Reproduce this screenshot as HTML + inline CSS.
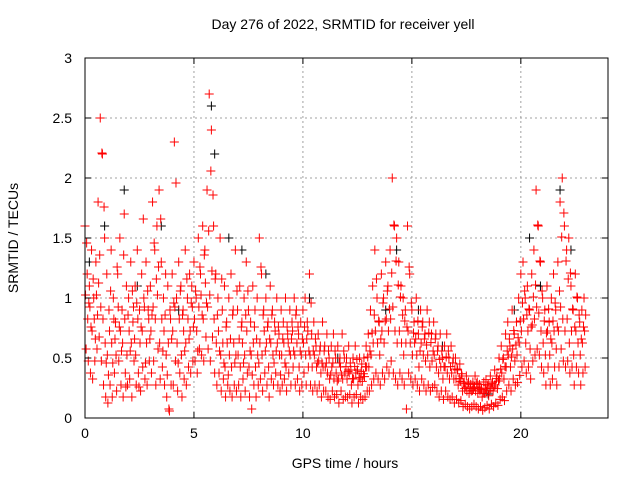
<!DOCTYPE html>
<html><head><meta charset="utf-8"><style>
html,body{margin:0;padding:0;background:#fff;}
svg text{font-family:"Liberation Sans",sans-serif;font-size:14px;fill:#000;}
</style></head><body>
<svg id="chart" width="640" height="480" viewBox="0 0 640 480" xmlns="http://www.w3.org/2000/svg">
<rect x="0" y="0" width="640" height="480" fill="#fff"/>
<text x="343" y="29" text-anchor="middle">Day 276 of 2022, SRMTID for receiver yell</text>
<text x="345" y="468" text-anchor="middle">GPS time / hours</text>
<text transform="translate(18,238) rotate(-90)" text-anchor="middle">SRMTID / TECUs</text>
<g id="grid"></g>
<g id="marks"></g>
<g id="axes"></g>
</svg>
<script>
const xTicks=[0,5,10,15,20];
const yTicks=[0,0.5,1,1.5,2,2.5,3];
const yTickLabels=["0","0.5","1","1.5","2","2.5","3"];
const xStep=0.1;
const upperVals=[1.6,1.2,1.1,1.4,1.0,1.3,1.8,2.5,2.2,1.5,
1.2,0.9,1.4,1.0,0.8,1.2,1.5,0.9,1.7,1.1,
1.0,1.3,0.8,1.1,1.4,0.9,1.2,1.0,1.3,0.9,
1.1,1.8,1.4,1.6,1.9,1.3,1.0,1.2,1.1,0.9,
1.2,2.3,1.0,1.3,1.1,0.9,1.4,1.0,1.2,1.1,
1.3,1.0,1.5,1.2,1.6,1.4,1.9,2.7,2.4,1.6,
1.2,1.0,1.5,0.9,1.1,0.8,1.0,1.2,0.9,1.4,
0.9,1.1,0.8,1.0,1.3,0.9,0.8,1.1,0.9,1.0,
1.5,1.2,0.9,1.0,0.8,1.1,0.9,0.8,1.0,0.7,
0.9,0.8,1.0,0.7,0.9,0.8,1.0,0.9,0.7,0.8,
0.9,1.0,0.8,1.2,0.7,0.8,0.6,0.7,0.6,0.8,
0.6,0.7,0.5,0.6,0.7,0.5,0.6,0.5,0.7,0.5,
0.5,0.6,0.4,0.5,0.6,0.4,0.5,0.45,0.5,0.6,
0.7,0.9,1.1,1.4,1.0,0.8,1.2,1.0,1.3,1.1,
1.4,2.0,1.6,1.5,1.3,1.1,1.0,0.9,1.6,1.2,
0.9,0.8,1.0,0.7,0.9,0.8,0.7,0.9,0.8,0.7,
0.8,0.7,0.6,0.7,0.5,0.6,0.7,0.5,0.6,0.5,
0.5,0.4,0.45,0.35,0.3,0.35,0.3,0.28,0.3,0.35,
0.3,0.28,0.25,0.3,0.32,0.28,0.35,0.3,0.4,0.35,
0.5,0.6,0.5,0.7,0.8,0.6,0.9,0.7,0.8,1.0,
1.2,1.3,1.0,1.1,0.9,1.2,1.4,1.9,1.6,1.3,
1.0,0.9,1.1,0.8,1.0,1.2,0.9,1.3,1.8,2.0,
1.6,1.4,1.5,1.1,0.9,1.2,1.0,0.8,0.9,1.0];
const middleVals=[1.0,0.8,0.9,0.7,0.8,1.0,1.1,0.9,0.8,0.6,
0.5,0.7,0.6,0.8,0.5,0.9,0.7,0.6,0.8,0.5,
0.7,0.6,0.9,0.5,0.8,0.6,0.7,0.9,0.6,0.8,
0.7,0.9,0.8,1.0,0.6,0.8,0.7,0.5,0.6,0.8,
0.7,0.9,0.6,0.8,0.5,0.7,0.6,0.8,0.7,0.9,
0.8,0.7,0.9,1.0,0.8,1.1,0.9,1.0,1.2,0.8,
0.6,0.7,0.5,0.6,0.4,0.6,0.5,0.4,0.6,0.5,
0.5,0.4,0.6,0.5,0.7,0.4,0.5,0.6,0.4,0.5,
0.6,0.5,0.7,0.6,0.4,0.6,0.5,0.7,0.6,0.5,
0.5,0.6,0.4,0.6,0.5,0.7,0.5,0.6,0.4,0.5,
0.6,0.5,0.7,0.5,0.4,0.5,0.4,0.45,0.35,0.4,
0.4,0.35,0.3,0.4,0.3,0.35,0.3,0.4,0.3,0.35,
0.3,0.35,0.25,0.3,0.35,0.25,0.3,0.28,0.32,0.4,
0.4,0.5,0.6,0.7,0.6,0.5,0.7,0.6,0.8,0.7,
0.8,0.9,0.7,0.6,0.7,0.6,0.5,0.6,0.7,0.6,
0.5,0.6,0.5,0.4,0.6,0.5,0.45,0.5,0.4,0.45,
0.5,0.4,0.35,0.4,0.3,0.4,0.35,0.3,0.35,0.3,
0.3,0.25,0.28,0.2,0.22,0.2,0.18,0.2,0.22,0.2,
0.18,0.2,0.15,0.18,0.2,0.16,0.22,0.2,0.25,0.22,
0.3,0.35,0.3,0.4,0.5,0.4,0.55,0.45,0.5,0.6,
0.7,0.8,0.6,0.7,0.55,0.75,0.8,0.9,0.85,0.7,
0.6,0.5,0.7,0.5,0.6,0.7,0.55,0.7,0.9,0.8,
0.7,0.8,0.6,0.7,0.5,0.7,0.6,0.5,0.6,0.7];
const lowerVals=[0.6,0.5,0.4,0.35,0.5,0.6,0.7,0.5,0.3,0.2,
0.15,0.3,0.2,0.4,0.25,0.5,0.3,0.2,0.4,0.3,
0.35,0.2,0.5,0.3,0.4,0.25,0.45,0.35,0.3,0.5,
0.4,0.5,0.3,0.6,0.35,0.45,0.3,0.2,0.1,0.3,
0.3,0.5,0.25,0.4,0.2,0.35,0.3,0.45,0.4,0.5,
0.5,0.4,0.6,0.55,0.5,0.7,0.6,0.5,0.7,0.4,
0.3,0.4,0.25,0.35,0.2,0.3,0.25,0.2,0.3,0.25,
0.3,0.2,0.35,0.25,0.4,0.2,0.1,0.3,0.2,0.3,
0.35,0.25,0.4,0.3,0.2,0.35,0.3,0.4,0.3,0.25,
0.3,0.35,0.25,0.4,0.3,0.45,0.3,0.35,0.25,0.3,
0.4,0.3,0.45,0.3,0.25,0.3,0.25,0.3,0.2,0.25,
0.25,0.2,0.18,0.25,0.2,0.22,0.15,0.25,0.18,0.2,
0.2,0.22,0.15,0.2,0.22,0.15,0.2,0.18,0.2,0.25,
0.25,0.3,0.35,0.4,0.35,0.3,0.4,0.35,0.45,0.4,
0.5,0.4,0.35,0.3,0.4,0.35,0.3,0.1,0.4,0.35,
0.3,0.35,0.3,0.25,0.35,0.3,0.25,0.3,0.25,0.28,
0.3,0.25,0.2,0.25,0.18,0.25,0.2,0.18,0.2,0.15,
0.18,0.15,0.17,0.12,0.14,0.12,0.1,0.12,0.14,0.12,
0.1,0.12,0.09,0.11,0.13,0.1,0.14,0.12,0.15,0.13,
0.18,0.2,0.17,0.25,0.3,0.25,0.35,0.3,0.32,0.38,
0.45,0.5,0.4,0.45,0.35,0.5,0.55,0.6,0.55,0.45,
0.4,0.3,0.45,0.3,0.35,0.45,0.3,0.45,0.6,0.5,
0.45,0.5,0.4,0.45,0.3,0.45,0.4,0.3,0.4,0.45];
const extraVals=[1.45,0.95,0.75,1.15,0.65,0.85,1.35,2.2,1.75,0.45,
0.35,1.05,0.45,0.65,1.25,0.75,0.55,1.35,0.25,0.85,
0.55,1.05,0.65,0.95,0.25,0.75,1.65,0.45,1.05,0.65,
0.85,1.45,1.15,1.25,1.65,0.55,0.85,0.35,0.05,0.65,
0.95,1.95,0.45,1.05,0.85,0.55,1.15,0.65,0.95,0.75,
1.05,0.55,1.25,0.85,1.35,0.95,1.55,2.05,1.85,1.15,
0.85,0.55,1.15,0.45,0.75,0.35,0.65,0.85,0.45,1.05,
0.65,0.75,0.45,0.85,1.05,0.55,0.35,0.75,0.65,0.45,
1.25,0.85,0.55,0.75,0.65,0.85,0.45,0.55,0.75,0.35,
0.65,0.45,0.75,0.55,0.65,0.55,0.85,0.75,0.55,0.65,
0.75,0.65,0.55,0.95,0.55,0.65,0.45,0.55,0.45,0.55,
0.45,0.55,0.35,0.45,0.55,0.3,0.45,0.35,0.55,0.42,
0.38,0.45,0.32,0.42,0.48,0.33,0.38,0.36,0.42,0.5,
0.55,0.7,0.85,1.15,0.8,0.65,0.95,0.8,1.05,0.9,
1.2,1.6,1.3,1.1,1.0,0.85,0.8,0.75,1.25,0.95,
0.7,0.65,0.8,0.55,0.75,0.65,0.6,0.7,0.62,0.55,
0.65,0.55,0.48,0.55,0.42,0.5,0.55,0.42,0.45,0.4,
0.4,0.32,0.36,0.28,0.25,0.28,0.24,0.22,0.25,0.28,
0.24,0.23,0.2,0.24,0.26,0.22,0.28,0.25,0.32,0.3,
0.4,0.48,0.42,0.55,0.65,0.5,0.72,0.6,0.66,0.8,
0.95,1.05,0.85,0.9,0.75,1.0,1.1,1.6,1.3,1.05,
0.8,0.7,0.9,0.65,0.8,0.95,0.75,1.05,1.5,1.7,
1.3,1.15,1.2,0.9,0.75,1.0,0.85,0.65,0.75,0.85];
const blackHours=[0.2,0.9,1.8,2.4,3.5,4.3,5.8,5.95,6.6,7.2,8.3,9.5,10.3,11.6,12.5,13.8,14.3,15.3,16.4,17.6,18.5,19.7,20.4,20.9,21.8,22.3];
const blackVals=[1.3,1.6,1.9,1.1,1.6,0.9,2.6,2.2,1.5,1.4,1.2,0.8,1.0,0.5,0.4,0.9,1.4,0.9,0.6,0.3,0.2,0.9,1.5,1.1,1.9,1.4];

const X0=85,X1=608,Y0=418,Y1=58,XMAX=24,YMAX=3;
const xs=h=>X0+h/XMAX*(X1-X0);
const ys=v=>Y0-v/YMAX*(Y0-Y1);
const NS="http://www.w3.org/2000/svg";
function mk(tag,attrs,parent){const e=document.createElementNS(NS,tag);for(const k in attrs)e.setAttribute(k,attrs[k]);parent.appendChild(e);return e;}
const grid=document.getElementById('grid'),marks=document.getElementById('marks'),axes=document.getElementById('axes');
xTicks.forEach(t=>{
  if(t>0){const l=mk('line',{x1:xs(t),x2:xs(t),y1:Y0,y2:Y1,stroke:'#a0a0a0','stroke-dasharray':'2,3'},grid);
  
  }
});
yTicks.forEach(t=>{
  if(t>0&&t<YMAX){const l=mk('line',{x1:X0,x2:X1,y1:ys(t),y2:ys(t),stroke:'#a0a0a0','stroke-dasharray':'2,3'},grid);
  
  }
});
function plus(h,v,col,dy){
  const x=xs(h),y=ys(v)+dy,p=mk('path',{d:`M${x-4.5},${y}h9M${x},${y-4.5}v9`,stroke:col,'stroke-width':1,fill:'none'},marks);
  
  
}
blackHours.forEach((h,i)=>plus(h,blackVals[i],'#000',0));
upperVals.forEach((v,i)=>plus(i*xStep,v,'#f00',0));
middleVals.forEach((v,i)=>plus(i*xStep+0.025,v,'#f00',-3));
lowerVals.forEach((v,i)=>plus(i*xStep+0.05,v,'#f00',3));
extraVals.forEach((v,i)=>plus(i*xStep+0.075,v,'#f00',-1));
const frame=mk('rect',{x:X0,y:Y1,width:X1-X0,height:Y0-Y1,fill:'none',stroke:'#000'},axes);


xTicks.forEach(t=>{
  mk('line',{x1:xs(t),x2:xs(t),y1:Y0,y2:Y0-6,stroke:'#000'},axes);
  mk('line',{x1:xs(t),x2:xs(t),y1:Y1,y2:Y1+6,stroke:'#000'},axes);
  const tx=mk('text',{x:xs(t),y:Y0+20,'text-anchor':'middle'},axes);tx.textContent=t;
  
  
});
yTicks.forEach((t,i)=>{
  mk('line',{x1:X0,x2:X0+6,y1:ys(t),y2:ys(t),stroke:'#000'},axes);
  mk('line',{x1:X1,x2:X1-6,y1:ys(t),y2:ys(t),stroke:'#000'},axes);
  const tx=mk('text',{x:X0-13,y:ys(t)+5,'text-anchor':'end'},axes);tx.textContent=yTickLabels[i];
  
  
});
</script>
</body></html>
